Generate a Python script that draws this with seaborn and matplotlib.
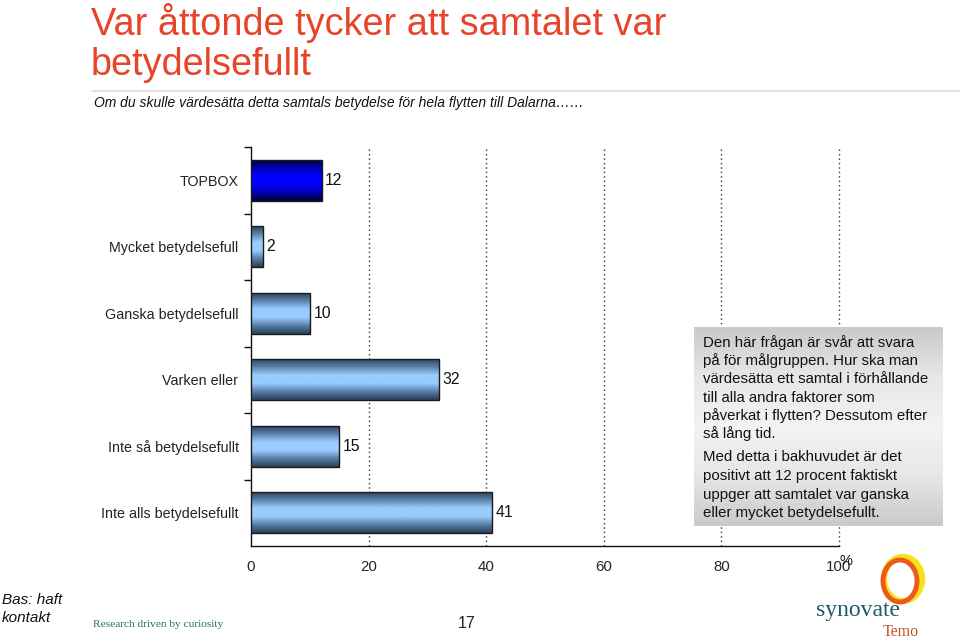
import numpy as np
import pandas as pd
import matplotlib
matplotlib.use("Agg")
import matplotlib.pyplot as plt
from matplotlib.colors import LinearSegmentedColormap
from matplotlib.patches import Ellipse
import seaborn as sns

categories = ["TOPBOX", "Mycket betydelsefull", "Ganska betydelsefull",
              "Varken eller", "Inte så betydelsefullt", "Inte alls betydelsefullt"]
values = [12, 2, 10, 32, 15, 41]
xticks = [0, 20, 40, 60, 80, 100]

title = "Var åttonde tycker att samtalet var\nbetydelsefullt"
subtitle = "Om du skulle värdesätta detta samtals betydelse för hela flytten till Dalarna……"
para1 = ["Den här frågan är svår att svara", "på för målgruppen. Hur ska man",
         "värdesätta ett samtal i förhållande", "till alla andra faktorer som",
         "påverkat i flytten? Dessutom efter", "så lång tid."]
para2 = ["Med detta i bakhuvudet är det", "positivt att 12 procent faktiskt",
         "uppger att samtalet var ganska", "eller mycket betydelsefullt."]

sns.set_theme(style="white")
plt.rcParams['font.family'] = ['Liberation Sans', 'DejaVu Sans']

W, H = 960, 639
fig = plt.figure(figsize=(9.6, 6.39), dpi=100)

def fx(px):
    return px / W

def fy(py):
    return 1 - py / H

ax = fig.add_axes([fx(251), fy(546), fx(839) - fx(251), fy(147) - fy(546)])
df = pd.DataFrame({"cat": categories, "val": values})
sns.barplot(data=df, x="val", y="cat", orient="h", ax=ax, width=0.62,
            color="#99ccff", edgecolor="#1a1a1a", linewidth=1.0, zorder=3)

ax.set_xlim(0, 100)
ax.set_ylim(5.5, -0.5)

light = LinearSegmentedColormap.from_list("light", ["#2a405a", "#5a80a8", "#99ccff", "#99ccff", "#5a80a8", "#2a405a"])
dark = LinearSegmentedColormap.from_list("dark", ["#00003a", "#0000b0", "#0000ff", "#0000ff", "#0000b0", "#00003a"])
grad = np.linspace(0, 1, 64).reshape(-1, 1)
for i, p in enumerate(ax.patches):
    x0, y0 = p.get_x(), p.get_y()
    w, h = p.get_width(), p.get_height()
    cmap = dark if i == 0 else light
    im = ax.imshow(grad, cmap=cmap, aspect="auto", extent=[x0, x0 + w, y0 + h, y0],
                   zorder=2.9, interpolation="bilinear")
    im.set_clip_path(p)
    p.set_facecolor("none")
    ax.text(x0 + w + 0.6, y0 + h / 2, str(values[i]), va="center", ha="left",
            fontsize=11.3, color="#111111")
ax.set_xlim(0, 100)
ax.set_ylim(5.5, -0.5)

for xv in xticks[1:]:
    ax.axvline(xv, color="#333333", linestyle=(0, (1, 2.2)), linewidth=1.0, zorder=1, clip_on=False)

for s in ["top", "right"]:
    ax.spines[s].set_visible(False)
for s in ["left", "bottom"]:
    ax.spines[s].set_color("#111111")
    ax.spines[s].set_linewidth(1.0)

ax.set_xticks(xticks)
ax.set_xticklabels([str(t) for t in xticks], fontsize=10.8)
ax.tick_params(axis="x", direction="inout", length=8, width=1, color="#111111", pad=6)
ax.set_yticks(range(len(categories)))
ax.set_yticklabels(categories, fontsize=10.3, color="#222222")
ax.tick_params(axis="y", which="major", length=0, pad=9)
ax.set_yticks(np.arange(-0.5, 5.5, 1.0), minor=True)
ax.tick_params(axis="y", which="minor", direction="out", length=5, width=1, color="#111111", left=True)
ax.set_xlabel("")
ax.set_ylabel("")
ax.grid(False)

fig.text(fx(846), fy(561), "%", fontsize=10.5, ha="center", va="center", color="#111111")

# Title and subtitle
fig.text(fx(91), fy(3), title, fontsize=27.3, color="#e8442a", ha="left", va="top", linespacing=1.13)
fig.add_artist(plt.Line2D([fx(92), fx(960)], [fy(91), fy(91)], color="#dcdcdc", linewidth=1.2))
fig.text(fx(94), fy(107), subtitle, fontsize=10.0, style="italic", color="#111111", ha="left", va="baseline")

# Text box with grey gradient
bax = fig.add_axes([fx(694), fy(526), fx(943) - fx(694), fy(327) - fy(526)])
bg = LinearSegmentedColormap.from_list("bg", ["#c8cacc", "#e6e8e8", "#f2f3f3", "#e6e8e8", "#cacbcc"])
bax.imshow(grad, cmap=bg, aspect="auto", extent=[0, 1, 0, 1], interpolation="bilinear")
bax.set_axis_off()
for k, line in enumerate(para1):
    fig.text(fx(703), fy(347 + 18.2 * k), line, fontsize=10.8, color="#111111", ha="left", va="baseline")
for k, line in enumerate(para2):
    fig.text(fx(703), fy(461 + 18.8 * k), line, fontsize=10.8, color="#111111", ha="left", va="baseline")

# Footer
fig.text(fx(2), fy(604), "Bas: haft", fontsize=11, style="italic", color="#111111", va="baseline")
fig.text(fx(2), fy(622), "kontakt", fontsize=11, style="italic", color="#111111", va="baseline")
fig.text(fx(93), fy(627), "Research driven by curiosity", fontsize=8.2, family="Liberation Serif",
         color="#2f6d72", va="baseline")
fig.text(fx(467), fy(628), "17", fontsize=11.5, color="#222222", ha="center", va="baseline")

# Logo
fig.add_artist(Ellipse((fx(903), fy(579)), fx(38), 44 / H, transform=fig.transFigure,
                       fill=False, edgecolor="#f7e21a", linewidth=4.5))
fig.add_artist(Ellipse((fx(900), fy(581)), fx(34), 42 / H, transform=fig.transFigure,
                       fill=False, edgecolor="#ec5a1c", linewidth=3.5))
fig.text(fx(816), fy(616), "synovate", fontsize=17, family="Liberation Serif", color="#1c5a6a",
         va="baseline")
fig.text(fx(883), fy(636), "Temo", fontsize=11.5, family="Liberation Serif", color="#c4522d",
         va="baseline")

fig.savefig("out.png", dpi=100)
